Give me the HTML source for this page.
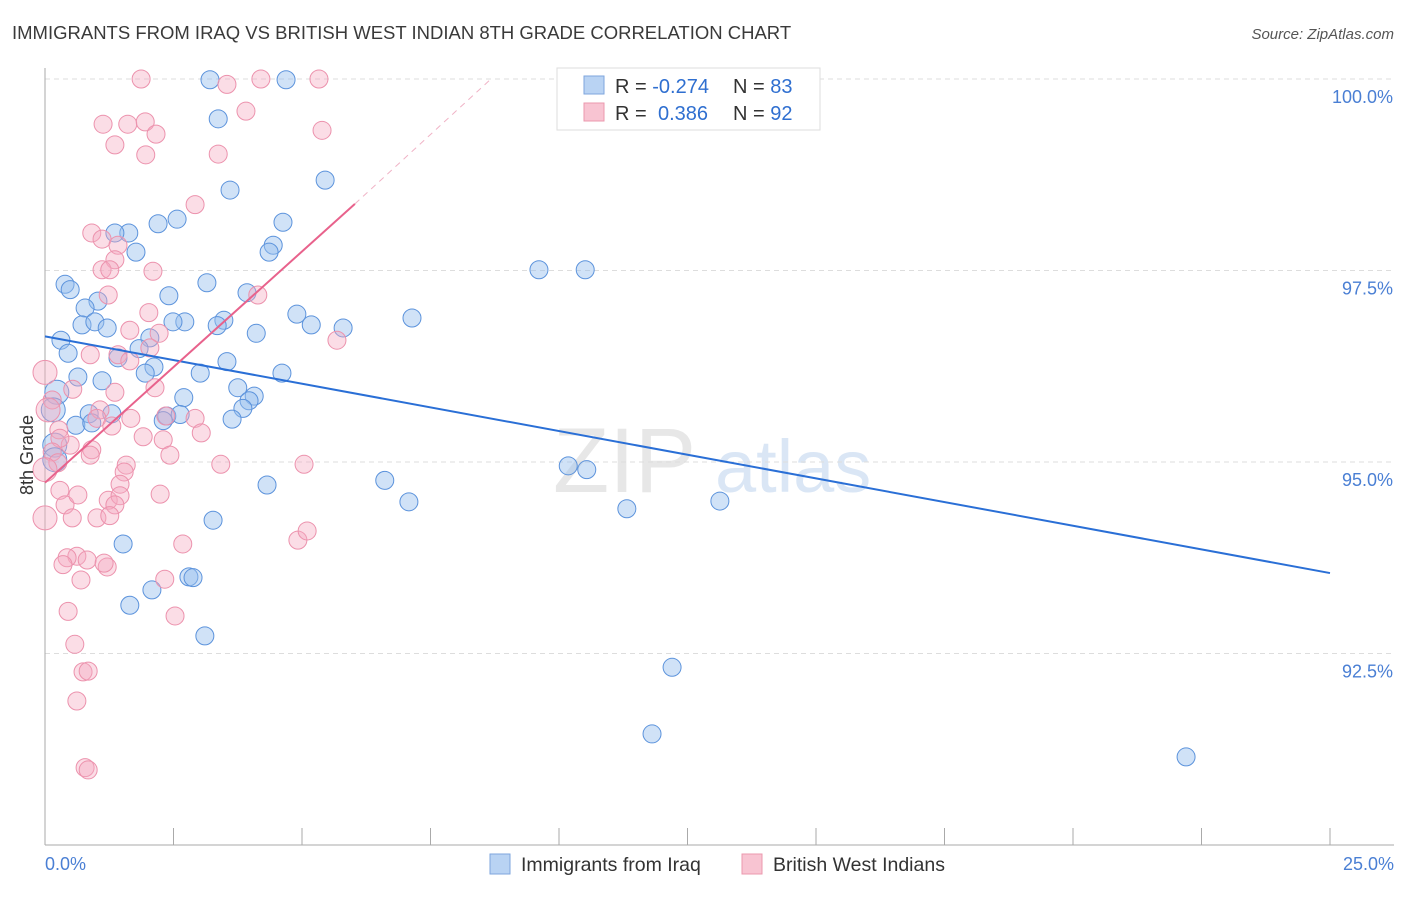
<!DOCTYPE html>
<html><head><meta charset="utf-8"><style>
body{margin:0;background:#fff;font-family:"Liberation Sans",sans-serif}
svg text{font-family:"Liberation Sans",sans-serif}
</style></head><body>
<svg id="chart" width="1406" height="892" xmlns="http://www.w3.org/2000/svg">
<text x="12" y="39" font-size="18.5" fill="#3a3a3a">IMMIGRANTS FROM IRAQ VS BRITISH WEST INDIAN 8TH GRADE CORRELATION CHART</text>
<text x="1394" y="39" font-size="15" fill="#555" font-style="italic" text-anchor="end">Source: ZipAtlas.com</text>
<g><text x="553" y="492" font-size="92" fill="#d8d8d8" font-family="Liberation Serif" opacity="0.6">ZIP</text><text x="715" y="492" font-size="74" fill="#bcd3ee" opacity="0.55">atlas</text></g>
<g id="grid"></g><g id="axes"></g><g id="marks"></g><g id="trends"></g>
<text transform="translate(33,455) rotate(-90)" font-size="18" fill="#333" text-anchor="middle">8th Grade</text>
<text x="45" y="870" font-size="18" fill="#4a7fd4">0.0%</text>
<text x="1394" y="870" font-size="18" fill="#4a7fd4" text-anchor="end">25.0%</text>
<g>
<rect x="557" y="68" width="263" height="62" fill="#fff" stroke="#ddd"/>
<rect x="584" y="76" width="20" height="18" fill="#b9d3f3" stroke="#7ea6de"/>
<rect x="584" y="103" width="20" height="18" fill="#f8c4d2" stroke="#eb98ae"/>
<text x="615" y="93" font-size="20" fill="#333">R = <tspan fill="#2f6fd0">-0.274</tspan><tspan x="733">N = </tspan><tspan fill="#2f6fd0">83</tspan></text>
<text x="615" y="120" font-size="20" fill="#333">R = <tspan fill="#2f6fd0" x="658">0.386</tspan><tspan x="733">N = </tspan><tspan fill="#2f6fd0">92</tspan></text>
</g>
<g><rect x="490" y="854" width="20" height="20" fill="#b9d3f3" stroke="#7ea6de"/><text x="521" y="871" font-size="19.5" fill="#333">Immigrants from Iraq</text></g>
<g><rect x="742" y="854" width="20" height="20" fill="#f8c4d2" stroke="#eb98ae"/><text x="773" y="871" font-size="19.5" fill="#333">British West Indians</text></g>
</svg>
<script>
const yTicks=[100,97.5,95,92.5];
const yTickLabels=["100.0%","97.5%","95.0%","92.5%"];
const xTicks=[0,2.5,5,7.5,10,12.5,15,17.5,20,22.5,25];
const blueX=[3.21,4.69,14.11,3.37,3.60,5.45,2.57,2.20,4.63,1.63,1.36,1.77,4.44,4.36,9.61,10.51,0.39,0.49,3.15,1.03,2.41,3.93,0.78,4.90,7.14,0.72,0.97,1.21,2.72,2.49,3.48,3.35,4.11,5.18,5.80,2.04,0.31,0.45,1.83,1.42,3.54,2.12,1.95,3.02,4.61,0.64,1.11,0.23,3.75,2.70,4.07,3.97,3.85,0.86,1.30,2.37,2.63,2.30,3.64,0.60,0.91,0.16,0.19,0.19,6.61,10.18,10.54,4.32,7.08,11.32,13.13,3.27,1.52,2.80,2.88,2.08,1.65,3.11,12.20,11.81,22.20];
const blueY=[99.99,99.99,99.99,99.48,98.55,98.68,98.17,98.11,98.13,97.99,97.99,97.74,97.83,97.74,97.51,97.51,97.32,97.25,97.34,97.10,97.17,97.21,97.01,96.93,96.88,96.79,96.83,96.75,96.83,96.83,96.85,96.78,96.68,96.79,96.75,96.62,96.59,96.42,96.48,96.36,96.31,96.24,96.16,96.16,96.16,96.11,96.06,95.91,95.97,95.84,95.86,95.80,95.70,95.63,95.63,95.60,95.62,95.54,95.56,95.48,95.51,95.68,95.22,95.03,94.76,94.95,94.90,94.70,94.48,94.39,94.49,94.24,93.93,93.50,93.49,93.33,93.13,92.73,92.32,91.45,91.15];
const pinkX=[1.87,3.54,4.20,5.33,3.91,1.13,1.61,1.95,2.16,5.39,1.36,1.96,3.37,2.92,0.91,1.11,1.42,1.36,2.10,1.11,1.26,1.23,4.14,2.02,5.68,2.22,1.65,1.42,0.88,2.04,0,1.65,2.14,0.54,1.36,0.14,0.06,2.35,1.67,2.92,1.07,1.01,1.30,0.27,1.91,2.30,3.04,0.49,0.29,0.14,0.91,2.43,0.88,3.42,5.04,1.58,1.54,0.25,0,1.46,0.29,0.39,0.64,1.23,1.46,2.24,1.36,1.01,1.26,0.53,0,2.68,4.92,5.10,0.62,0.43,0.82,1.21,0.35,0.70,2.33,0.45,2.53,0.58,0.74,0.84,0.62,0.78,0.84,1.15];
const pinkY=[100,99.93,100,100,99.58,99.41,99.41,99.44,99.28,99.33,99.14,99.01,99.02,98.36,97.99,97.91,97.83,97.64,97.49,97.51,97.51,97.18,97.18,96.95,96.59,96.68,96.72,96.40,96.40,96.49,96.17,96.32,95.97,95.95,95.91,95.81,95.68,95.60,95.57,95.57,95.68,95.57,95.47,95.42,95.33,95.29,95.38,95.22,95.31,95.13,95.16,95.09,95.09,94.97,94.97,94.96,94.87,94.99,94.90,94.71,94.63,94.44,94.57,94.50,94.56,94.58,94.44,94.27,94.30,94.27,94.27,93.93,93.98,94.10,93.77,93.75,93.72,93.63,93.66,93.46,93.47,93.05,92.99,92.62,92.26,92.27,91.88,91.01,90.98,93.68];
const blueTrend=[[0,96.64],[25,93.55]];
const pinkTrend=[[0,94.73],[6.03,98.37]];
const pinkTrendExt=[[6.03,98.37],[8.66,99.99]];
const NS="http://www.w3.org/2000/svg";
const X=v=>45+v/25*1285;
const Y=v=>79+(100-v)/2.5*191.5;
function mk(tag,parent,attrs){const e=document.createElementNS(NS,tag);for(const k in attrs)e.setAttribute(k,attrs[k]);document.getElementById(parent).appendChild(e);return e;}
yTicks.forEach((t,i)=>{
 const l=mk('line','grid',{x1:45,x2:1394,y1:Y(t),y2:Y(t),stroke:'#ddd','stroke-dasharray':'5,4'});
 
 
 const tx=mk('text','grid',{x:1393,y:Y(t)+24,'font-size':18,fill:'#4a7fd4','text-anchor':'end'});
 tx.textContent=yTickLabels[i];
 
 
});
const ax=mk('line','axes',{x1:45,x2:45,y1:68,y2:845,stroke:'#aaa'});


const bx=mk('line','axes',{x1:45,x2:1394,y1:845,y2:845,stroke:'#aaa'});


xTicks.forEach(t=>{
 const l=mk('line','axes',{x1:X(t),x2:X(t),y1:828,y2:845,stroke:'#aaa'});
 
 
});
blueX.forEach((v,i)=>{
 const c=mk('circle','marks',{cx:X(v),cy:Y(blueY[i]),r:v<0.25?12:9,fill:'rgba(150,190,238,0.45)',stroke:'#5c93dc','stroke-width':1});
 
 
});
pinkX.forEach((v,i)=>{
 const c=mk('circle','marks',{cx:X(v),cy:Y(pinkY[i]),r:v<0.1?12:9,fill:'rgba(245,170,192,0.4)',stroke:'#ec92ad','stroke-width':1});
 
 
});
const bt=mk('line','trends',{x1:X(blueTrend[0][0]),y1:Y(blueTrend[0][1]),x2:X(blueTrend[1][0]),y2:Y(blueTrend[1][1]),stroke:'#2a6fd6','stroke-width':2});


const pt=mk('line','trends',{x1:X(pinkTrend[0][0]),y1:Y(pinkTrend[0][1]),x2:X(pinkTrend[1][0]),y2:Y(pinkTrend[1][1]),stroke:'#e8628c','stroke-width':2});


const pe=mk('line','trends',{x1:X(pinkTrendExt[0][0]),y1:Y(pinkTrendExt[0][1]),x2:X(pinkTrendExt[1][0]),y2:Y(pinkTrendExt[1][1]),stroke:'#f0b3c6','stroke-width':1,'stroke-dasharray':'6,5'});


</script>
</body></html>
